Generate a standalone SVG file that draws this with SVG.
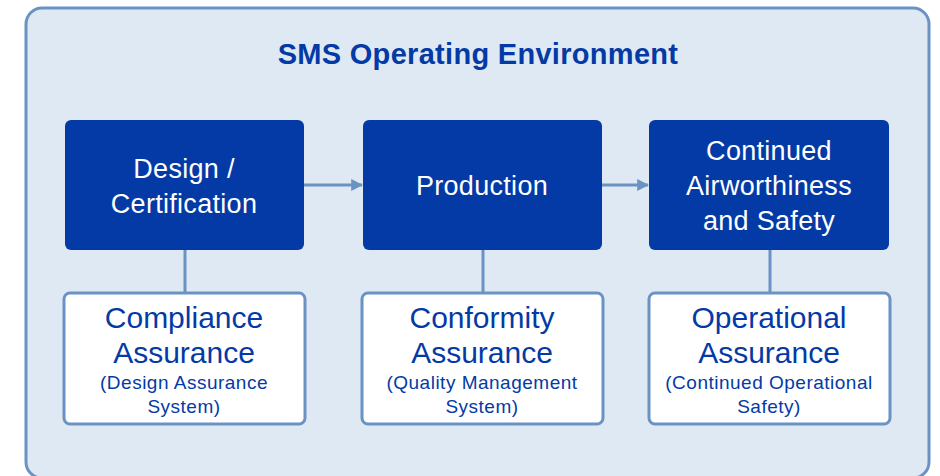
<svg xmlns="http://www.w3.org/2000/svg" width="940" height="476" viewBox="0 0 940 476">
<defs>
<style>
.dark{fill:#043AA5;}
.light{fill:#FFFFFF;stroke:#6A93C4;stroke-width:3;}
.t{font-family:"Liberation Sans",Arial,sans-serif;text-anchor:middle;}
.w{fill:#FFFFFF;font-size:27px;letter-spacing:0.3px;}
.b{fill:#043AA5;font-size:30px;}
.s{fill:#043AA5;font-size:19px;letter-spacing:0.5px;}
.c{stroke:#6A93C4;stroke-width:3;fill:none;}
</style>
<marker id="ah" viewBox="0 0 10 10" refX="9" refY="5" markerWidth="4" markerHeight="4" orient="auto"><path d="M0,0L10,5L0,10z" fill="#6A93C4"/></marker>
</defs>
<rect x="26" y="8" width="903" height="470" rx="16" fill="#DFE9F3" stroke="#6A93C4" stroke-width="3"/>
<text class="t" x="478" y="64" font-size="29" font-weight="bold" fill="#043AA5" letter-spacing="0.3">SMS Operating Environment</text>
<g id="connectors">
<line class="c" x1="304" y1="185" x2="362" y2="185" marker-end="url(#ah)"/>
<line class="c" x1="602" y1="185" x2="648" y2="185" marker-end="url(#ah)"/>
<line class="c" x1="185" y1="250" x2="185" y2="293"/>
<line class="c" x1="483" y1="250" x2="483" y2="293"/>
<line class="c" x1="770" y1="250" x2="770" y2="293"/>
</g>
<g id="design">
<rect class="dark" x="65" y="120" width="239" height="130" rx="6"/>
<text class="t w" x="184" y="178">Design /</text>
<text class="t w" x="184" y="213">Certification</text>
</g>
<g id="production">
<rect class="dark" x="363" y="120" width="239" height="130" rx="6"/>
<text class="t w" x="482" y="195">Production</text>
</g>
<g id="continued">
<rect class="dark" x="649" y="120" width="240" height="130" rx="6"/>
<text class="t w" x="769" y="160">Continued</text>
<text class="t w" x="769" y="195">Airworthiness</text>
<text class="t w" x="769" y="230">and Safety</text>
</g>
<g id="compliance">
<rect class="light" x="64" y="293" width="241" height="131" rx="6"/>
<text class="t b" x="184" y="328">Compliance</text>
<text class="t b" x="184" y="363">Assurance</text>
<text class="t s" x="184" y="389">(Design Assurance</text>
<text class="t s" x="184" y="413">System)</text>
</g>
<g id="conformity">
<rect class="light" x="362" y="293" width="241" height="131" rx="6"/>
<text class="t b" x="482" y="328">Conformity</text>
<text class="t b" x="482" y="363">Assurance</text>
<text class="t s" x="482" y="389">(Quality Management</text>
<text class="t s" x="482" y="413">System)</text>
</g>
<g id="operational">
<rect class="light" x="649" y="293" width="241" height="131" rx="6"/>
<text class="t b" x="769" y="328">Operational</text>
<text class="t b" x="769" y="363">Assurance</text>
<text class="t s" x="769" y="389">(Continued Operational</text>
<text class="t s" x="769" y="413">Safety)</text>
</g>
</svg>
